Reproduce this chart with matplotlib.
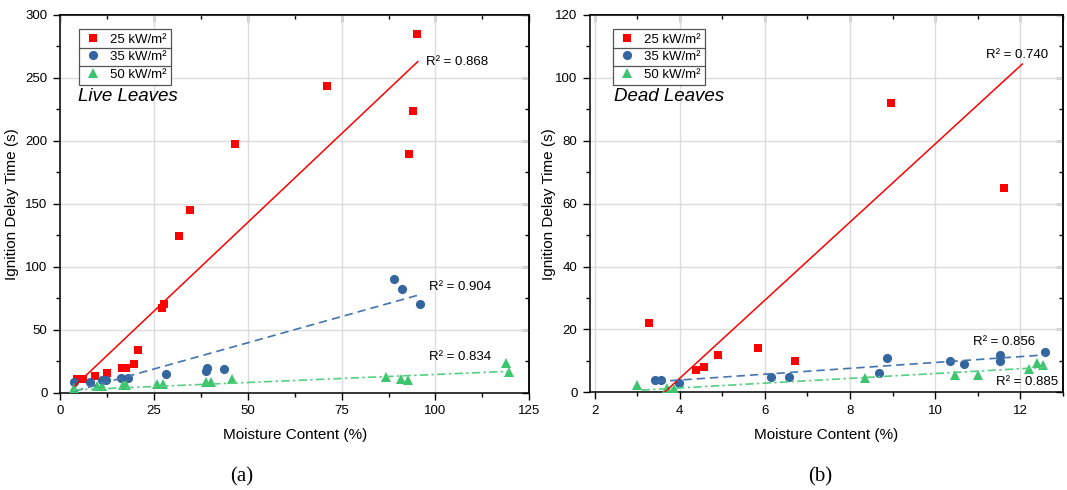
import numpy as np
import matplotlib
matplotlib.use('Agg')
import matplotlib.pyplot as plt
from matplotlib.ticker import MultipleLocator, NullFormatter
from matplotlib.lines import Line2D

plt.rcParams['font.family'] = ['Liberation Sans', 'DejaVu Sans']

# Live leaves (panel a)
live_x_25 = [4.5, 6.2, 9.2, 12.4, 16.4, 17.7, 19.8, 20.7, 27.1, 27.6, 31.7, 34.5, 46.6, 71.2, 92.9, 94.1, 95.0]
live_y_25 = [11, 11, 13, 15.5, 19.5, 19.5, 22.5, 34, 67.5, 70.5, 124.5, 145.5, 197.5, 244, 189.5, 224, 285]
live_x_35 = [3.8, 8.0, 11.2, 12.2, 16.2, 18.0, 28.3, 39.0, 39.1, 43.8, 89.0, 91.0, 96.0]
live_y_35 = [8.5, 8.5, 9.7, 9.7, 11.5, 11.5, 14.5, 17.5, 20.0, 18.5, 90, 82, 70.5]
live_x_50 = [3.6, 9.8, 11.2, 16.9, 17.6, 25.8, 27.5, 38.8, 40.2, 45.8, 86.8, 90.8, 92.8, 118.9, 119.6]
live_y_50 = [4.0, 5.0, 5.0, 5.8, 6.2, 6.8, 7.0, 8.2, 8.2, 11.0, 12.2, 11.0, 10.0, 23.5, 16.5]

# linear fit lines (end points)
live_fit25_x = [4.0, 95.3]
live_fit25_y = [5.5, 263.0]
live_fit35_x = [4.0, 96.0]
live_fit35_y = [1.3, 78.0]
live_fit50_x = [3.6, 119.7]
live_fit50_y = [2.2, 17.0]
live_r2 = ['R² = 0.868', 'R² = 0.904', 'R² = 0.834']
live_r2_pos = [(97.5, 263), (98.3, 84.2), (98.3, 28.1)]

# Dead leaves (panel b)
dead_x_25 = [3.27, 4.39, 4.57, 4.91, 5.83, 6.71, 8.97, 11.62]
dead_y_25 = [22, 7, 8, 12, 14, 10, 92, 65]
dead_x_35 = [3.41, 3.57, 3.98, 6.14, 6.56, 8.68, 8.87, 10.34, 10.67, 11.53, 11.53, 12.58]
dead_y_35 = [4, 4, 3, 5, 5, 6.1, 10.9, 10, 9, 12, 10, 12.9]
dead_x_50 = [2.99, 3.70, 3.86, 8.36, 10.47, 11.02, 12.20, 12.40, 12.54]
dead_y_50 = [2.2, 1.4, 1.2, 4.4, 5.4, 5.4, 7.5, 9.3, 8.7]

dead_fit25_x = [3.64, 12.05]
dead_fit25_y = [0.0, 104.4]
dead_fit35_x = [3.46, 12.6]
dead_fit35_y = [3.4, 11.9]
dead_fit50_x = [3.1, 12.6]
dead_fit50_y = [0.7, 7.95]
dead_r2 = ['R² = 0.740', 'R² = 0.856', 'R² = 0.885']
dead_r2_pos = [(11.2, 107.3), (10.89, 15.9), (11.43, 3.2)]

series_labels = ['25 kW/m²', '35 kW/m²', '50 kW/m²']

RED = '#FF0000'
BLUE = '#33669E'
GREEN = '#3CC46E'
BLUE_LINE = '#4474AE'
GREEN_LINE = '#55CF80'


def style_axes(ax, xlim, ylim, xmaj, xmin, ymaj, ymin):
    ax.set_xlim(*xlim)
    ax.set_ylim(*ylim)
    ax.xaxis.set_major_locator(MultipleLocator(xmaj))
    ax.xaxis.set_minor_locator(MultipleLocator(xmin))
    ax.yaxis.set_major_locator(MultipleLocator(ymaj))
    ax.yaxis.set_minor_locator(MultipleLocator(ymin))
    ax.grid(True, which='major', color='#DCDCDC', linewidth=1.0)
    ax.set_axisbelow(True)
    ax.tick_params(which='both', direction='out', top=False, right=False,
                   labelsize=9.5, width=1.0, pad=4)
    ax.tick_params(which='major', length=5)
    ax.tick_params(which='minor', length=3)
    for sp in ax.spines.values():
        sp.set_linewidth(1.1)

    # mirrored ticks pointing inward on top and right
    top = ax.secondary_xaxis('top')
    top.xaxis.set_major_locator(MultipleLocator(xmaj))
    top.xaxis.set_minor_locator(MultipleLocator(xmin))
    top.xaxis.set_major_formatter(NullFormatter())
    top.tick_params(which='both', direction='in', width=1.0)
    top.tick_params(which='major', length=5)
    top.tick_params(which='minor', length=3)
    top.spines['top'].set_linewidth(1.1)
    right = ax.secondary_yaxis('right')
    right.yaxis.set_major_locator(MultipleLocator(ymaj))
    right.yaxis.set_minor_locator(MultipleLocator(ymin))
    right.yaxis.set_major_formatter(NullFormatter())
    right.tick_params(which='both', direction='in', width=1.0)
    right.tick_params(which='major', length=5)
    right.tick_params(which='minor', length=3)
    right.spines['right'].set_linewidth(1.1)


def plot_panel(ax, xs, ys, fits, r2, r2_pos, title, leg_x, title_x, ylab_x):
    markers = ['s', 'o', '^']
    colors = [RED, BLUE, GREEN]
    sizes = [5.8, 6.6, 7.4]
    handles = []
    for x, y, m, c, s, lab in zip(xs, ys, markers, colors, sizes, series_labels):
        h, = ax.plot(x, y, linestyle='none', marker=m, color=c, markersize=s,
                     markeredgewidth=0, label=lab, zorder=3)
        handles.append(h)

    (fx25, fy25), (fx35, fy35), (fx50, fy50) = fits
    ax.plot(fx25, fy25, color=RED, linewidth=1.1, zorder=4)
    ax.plot(fx35, fy35, color=BLUE_LINE, linewidth=1.2, dashes=(5, 3), zorder=4)
    ax.plot(fx50, fy50, color=GREEN_LINE, linewidth=1.2, dashes=(5, 2, 1.4, 2), zorder=4)

    for txt, (tx, ty) in zip(r2, r2_pos):
        ax.text(tx, ty, txt, fontsize=9.5, ha='left', va='center', zorder=5)

    ax.text(title_x, 0.772, title, transform=ax.transAxes, fontsize=13.5,
            style='italic', ha='left', va='baseline')

    leg = ax.legend(handles=handles, loc='upper left', bbox_to_anchor=(leg_x, 0.962),
                    borderaxespad=0, fontsize=9.5, fancybox=False, framealpha=1,
                    edgecolor='#555555', borderpad=0.3, labelspacing=0.4,
                    handlelength=1.5, handletextpad=0.6)
    leg.get_frame().set_linewidth(0.9)

    ax.set_xlabel('Moisture Content (%)', fontsize=11)
    ax.set_ylabel('Ignition Delay Time (s)', fontsize=11)
    ax.xaxis.set_label_coords(0.5, -0.112)
    ax.xaxis.label.set_va('center')
    ax.yaxis.set_label_coords(ylab_x, 0.5)
    ax.yaxis.label.set_va('center')
    return leg


def add_legend_rows(fig, leg):
    # Origin style legend: horizontal rule between the rows
    fig.canvas.draw()
    renderer = fig.canvas.get_renderer()
    frame = leg.get_frame().get_window_extent(renderer)
    texts = leg.get_texts()
    inv = fig.transFigure.inverted()
    for t1, t2 in zip(texts[:-1], texts[1:]):
        b1 = t1.get_window_extent(renderer)
        b2 = t2.get_window_extent(renderer)
        ymid = ((b1.y0 + b1.y1) / 2 + (b2.y0 + b2.y1) / 2) / 2
        p0 = inv.transform((frame.x0, ymid))
        p1 = inv.transform((frame.x1, ymid))
        fig.add_artist(Line2D([p0[0], p1[0]], [p0[1], p1[1]], color='#555555',
                              linewidth=0.9, transform=fig.transFigure))


fig = plt.figure(figsize=(10.67, 4.9), dpi=100)
ax1 = fig.add_axes([0.05623, 0.19857, 0.43984, 0.77082])
ax2 = fig.add_axes([0.55295, 0.19939, 0.44302, 0.77000])

style_axes(ax1, (0, 125), (0, 300), 25, 12.5, 50, 25)
style_axes(ax2, (1.89, 13.0), (0, 120), 2, 1, 20, 10)

leg1 = plot_panel(ax1, [live_x_25, live_x_35, live_x_50], [live_y_25, live_y_35, live_y_50],
                  [(live_fit25_x, live_fit25_y), (live_fit35_x, live_fit35_y),
                   (live_fit50_x, live_fit50_y)],
                  live_r2, live_r2_pos, 'Live Leaves', 0.040, 0.039, -0.102)
leg2 = plot_panel(ax2, [dead_x_25, dead_x_35, dead_x_50], [dead_y_25, dead_y_35, dead_y_50],
                  [(dead_fit25_x, dead_fit25_y), (dead_fit35_x, dead_fit35_y),
                   (dead_fit50_x, dead_fit50_y)],
                  dead_r2, dead_r2_pos, 'Dead Leaves', 0.048, 0.050, -0.087)

fig.text(241.7 / 1067, 1 - 476.7 / 490, '(a)', ha='center', va='center',
         fontsize=15, family='Liberation Serif')
fig.text(820 / 1067, 1 - 476.7 / 490, '(b)', ha='center', va='center',
         fontsize=15, family='Liberation Serif')

add_legend_rows(fig, leg1)
add_legend_rows(fig, leg2)

fig.savefig('out.png', dpi=100)
